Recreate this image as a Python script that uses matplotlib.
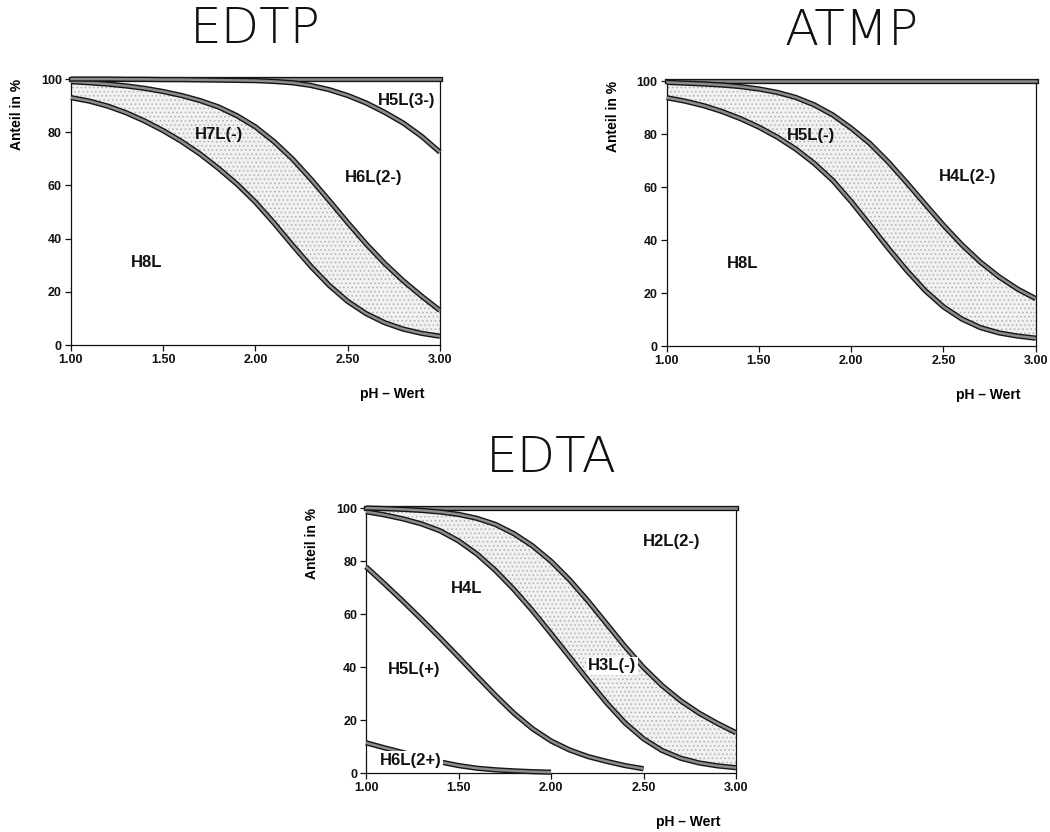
import matplotlib
matplotlib.use('Agg')
import matplotlib.pyplot as plt
import matplotlib.patheffects as pe

plt.rcParams['font.family'] = ['Liberation Sans', 'DejaVu Sans']
plt.rcParams['hatch.linewidth'] = 0.6

# ---------------- data ----------------
ph = [1.0, 1.1, 1.2, 1.3, 1.4, 1.5, 1.6, 1.7, 1.8, 1.9, 2.0,
      2.1, 2.2, 2.3, 2.4, 2.5, 2.6, 2.7, 2.8, 2.9, 3.0]

# EDTP cumulative boundaries (%)
edtp_h8l = [93, 91.7, 89.8, 87.3, 84.2, 80.6, 76.5, 71.8, 66.4, 60.5, 53.7,
            45.9, 37.6, 29.6, 22.4, 16.4, 11.8, 8.4, 6.0, 4.4, 3.3]
edtp_h7l = [99, 98.6, 98.1, 97.4, 96.5, 95.3, 93.8, 91.9, 89.5, 86.2, 82.0,
            76.5, 70.0, 62.4, 54.3, 46.0, 38.0, 30.7, 24.2, 18.4, 13.0]
edtp_h6l = [100, 100, 100, 99.9, 99.9, 99.8, 99.8, 99.7, 99.6, 99.5, 99.4,
            99.1, 98.6, 97.6, 96, 93.8, 91, 87.5, 83.5, 78.5, 72.5]

# ATMP cumulative boundaries (%)
atmp_h8l = [93.7, 92.4, 90.7, 88.5, 85.8, 82.6, 78.8, 74.3, 68.9, 62.5, 54.5,
            45.8, 37.0, 28.6, 21.0, 14.8, 10.2, 7.0, 5.0, 3.8, 3.0]
atmp_h5l = [99.5, 99.2, 98.9, 98.5, 97.9, 97.0, 95.7, 93.8, 91.0, 87.2, 82.2,
            76.5, 69.5, 61.7, 53.6, 45.6, 38.2, 31.7, 26.2, 21.6, 17.9]

# EDTA cumulative boundaries (%)
ph_h6l = [1.0, 1.1, 1.2, 1.3, 1.4, 1.5, 1.6, 1.7, 1.8, 1.9, 2.0]
edta_h6l = [11.4, 9.5, 7.7, 5.9, 4.2, 2.8, 1.8, 1.2, 0.8, 0.5, 0.3]
ph_h5l = [1.0, 1.1, 1.2, 1.3, 1.4, 1.5, 1.6, 1.7, 1.8, 1.9, 2.0,
          2.1, 2.2, 2.3, 2.4, 2.5]
edta_h5l = [77.8, 71.4, 64.8, 58.0, 51.0, 43.8, 36.5, 29.3, 22.5, 16.7, 12.1,
            8.7, 6.2, 4.4, 2.8, 1.6]
edta_h4l = [98.6, 97.4, 95.9, 94.0, 91.4, 87.6, 82.6, 76.4, 69.2, 61.2, 52.6,
            43.8, 35.0, 26.5, 18.9, 12.9, 8.5, 5.6, 3.8, 2.7, 2.0]
edta_h3l = [100, 99.8, 99.5, 99.1, 98.5, 97.6, 96.1, 93.8, 90.3, 85.7, 79.9,
            72.9, 64.9, 56.3, 47.7, 39.8, 33.0, 27.3, 22.6, 18.7, 15.2]

x_ticks = [1.0, 1.5, 2.0, 2.5, 3.0]
x_labels = ['1.00', '1.50', '2.00', '2.50', '3.00']
y_ticks = [0, 20, 40, 60, 80, 100]
y_labels = ['0', '20', '40', '60', '80', '100']

# region labels: (text, pH, percent, white background)
edtp_labels = [('H5L(3-)', 2.82, 92, False), ('H7L(-)', 1.80, 79, False),
               ('H6L(2-)', 2.64, 63, False), ('H8L', 1.41, 31, False)]
atmp_labels = [('H5L(-)', 1.78, 79.5, False), ('H4L(2-)', 2.63, 64, False),
               ('H8L', 1.41, 31, False)]
edta_labels = [('H2L(2-)', 2.65, 87.3, False), ('H4L', 1.545, 69.7, False),
               ('H3L(-)', 2.33, 40.4, True), ('H5L(+)', 1.26, 39, False),
               ('H6L(2+)', 1.24, 4.9, True)]

# ---------------- style helpers ----------------
fx = pe.Stroke(linewidth=3.8, foreground='#151515')


def curve(ax, x, y):
    ax.plot(x, y, color='#8c8c8c', lw=1.8, solid_capstyle='butt',
            solid_joinstyle='round',
            path_effects=[fx, pe.Normal()], zorder=4, clip_on=False)


def shade(ax, x, lo, hi):
    ax.fill_between(x, lo, hi, facecolor='#f1f1f1', edgecolor='#b0b0b0',
                    hatch='....', linewidth=0, zorder=1)


def setup(ax, title):
    ax.set_xlim(1.0, 3.0)
    ax.set_ylim(0, 100)
    ax.set_xticks(x_ticks)
    ax.set_xticklabels(x_labels)
    ax.set_yticks(y_ticks)
    ax.set_yticklabels(y_labels)
    ax.tick_params(direction='out', length=4, width=0.9, labelsize=9,
                   pad=2.5, colors='#111111')
    for lab in ax.get_xticklabels() + ax.get_yticklabels():
        lab.set_fontweight('bold')
    for s in ['left', 'bottom', 'right']:
        ax.spines[s].set_linewidth(0.9)
        ax.spines[s].set_color('#111111')
    ax.spines['top'].set_visible(False)
    ax.axhline(100, color='#8c8c8c', lw=1.8, path_effects=[fx, pe.Normal()],
               zorder=4, clip_on=False)
    ax.text(0.5, 1.19, title, transform=ax.transAxes, ha='center',
            va='center', fontsize=36, family='DejaVu Sans',
            fontweight='light', color='#111111')
    ax.text(-0.146, 1.0, 'Anteil in %', transform=ax.transAxes, rotation=90,
            ha='center', va='top', fontsize=10, fontweight='bold')
    ax.text(0.87, -0.185, 'pH \u2013 Wert', transform=ax.transAxes,
            ha='center', va='center', fontsize=10, fontweight='bold')


def labels(ax, items):
    for t, x, y, bg in items:
        kw = {}
        if bg:
            kw['bbox'] = dict(facecolor='white', edgecolor='none', pad=1.0)
        ax.text(x, y, t, ha='center', va='center', fontsize=12,
                fontweight='bold', color='#111111', zorder=6, **kw)


fig = plt.figure(figsize=(10.5, 8.32), dpi=100)

# EDTP
ax1 = fig.add_axes([0.0676, 0.5853, 0.3514, 0.3197])
setup(ax1, 'EDTP')
shade(ax1, ph, edtp_h8l, edtp_h7l)
curve(ax1, ph, edtp_h8l)
curve(ax1, ph, edtp_h7l)
curve(ax1, ph, edtp_h6l)
labels(ax1, edtp_labels)

# ATMP
ax2 = fig.add_axes([0.635, 0.584, 0.3514, 0.3186])
setup(ax2, 'ATMP')
shade(ax2, ph, atmp_h8l, atmp_h5l)
curve(ax2, ph, atmp_h8l)
curve(ax2, ph, atmp_h5l)
labels(ax2, atmp_labels)

# EDTA
ax3 = fig.add_axes([0.3486, 0.0709, 0.3524, 0.3185])
setup(ax3, 'EDTA')
shade(ax3, ph, edta_h4l, edta_h3l)
curve(ax3, ph_h6l, edta_h6l)
curve(ax3, ph_h5l, edta_h5l)
curve(ax3, ph, edta_h4l)
curve(ax3, ph, edta_h3l)
labels(ax3, edta_labels)

fig.savefig('out.png', dpi=100, facecolor='white')
